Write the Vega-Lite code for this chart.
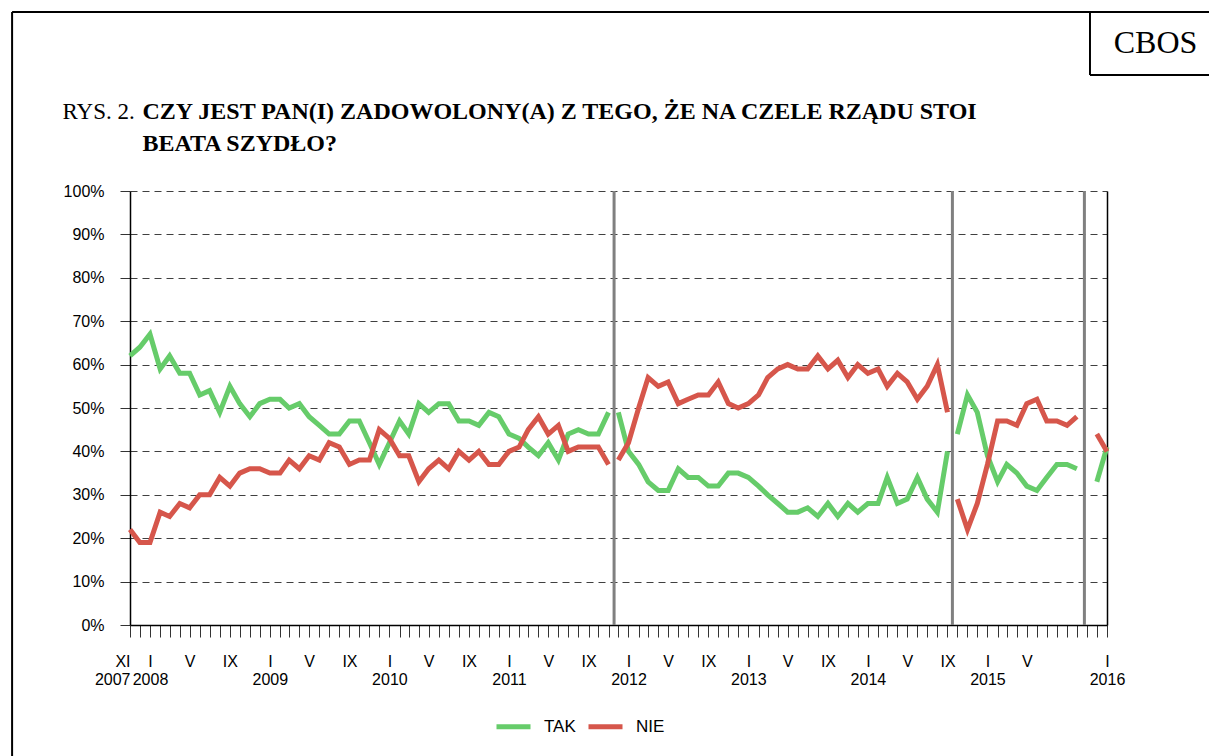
{
  "$schema": "https://vega.github.io/schema/vega-lite/v6.json",
  "width": 977,
  "height": 434,
  "autosize": "none",
  "padding": {"left": 130, "top": 191, "right": 102, "bottom": 131},
  "background": "white",
  "config": {
    "view": {"stroke": null},
    "font": "Liberation Sans",
    "axis": {"labelFont": "Liberation Sans", "titleFont": "Liberation Serif", "labelColor": "black", "titleColor": "black"}
  },
  "datasets": {
    "sondaz": [
      {"data": "2007-11-01", "TAK": 62, "NIE": 22, "rzad": "Tusk I"},
      {"data": "2007-12-01", "TAK": 64, "NIE": 19, "rzad": "Tusk I"},
      {"data": "2008-01-01", "TAK": 67, "NIE": 19, "rzad": "Tusk I"},
      {"data": "2008-02-01", "TAK": 59, "NIE": 26, "rzad": "Tusk I"},
      {"data": "2008-03-01", "TAK": 62, "NIE": 25, "rzad": "Tusk I"},
      {"data": "2008-04-01", "TAK": 58, "NIE": 28, "rzad": "Tusk I"},
      {"data": "2008-05-01", "TAK": 58, "NIE": 27, "rzad": "Tusk I"},
      {"data": "2008-06-01", "TAK": 53, "NIE": 30, "rzad": "Tusk I"},
      {"data": "2008-07-01", "TAK": 54, "NIE": 30, "rzad": "Tusk I"},
      {"data": "2008-08-01", "TAK": 49, "NIE": 34, "rzad": "Tusk I"},
      {"data": "2008-09-01", "TAK": 55, "NIE": 32, "rzad": "Tusk I"},
      {"data": "2008-10-01", "TAK": 51, "NIE": 35, "rzad": "Tusk I"},
      {"data": "2008-11-01", "TAK": 48, "NIE": 36, "rzad": "Tusk I"},
      {"data": "2008-12-01", "TAK": 51, "NIE": 36, "rzad": "Tusk I"},
      {"data": "2009-01-01", "TAK": 52, "NIE": 35, "rzad": "Tusk I"},
      {"data": "2009-02-01", "TAK": 52, "NIE": 35, "rzad": "Tusk I"},
      {"data": "2009-03-01", "TAK": 50, "NIE": 38, "rzad": "Tusk I"},
      {"data": "2009-04-01", "TAK": 51, "NIE": 36, "rzad": "Tusk I"},
      {"data": "2009-05-01", "TAK": 48, "NIE": 39, "rzad": "Tusk I"},
      {"data": "2009-06-01", "TAK": 46, "NIE": 38, "rzad": "Tusk I"},
      {"data": "2009-07-01", "TAK": 44, "NIE": 42, "rzad": "Tusk I"},
      {"data": "2009-08-01", "TAK": 44, "NIE": 41, "rzad": "Tusk I"},
      {"data": "2009-09-01", "TAK": 47, "NIE": 37, "rzad": "Tusk I"},
      {"data": "2009-10-01", "TAK": 47, "NIE": 38, "rzad": "Tusk I"},
      {"data": "2009-11-01", "TAK": 42, "NIE": 38, "rzad": "Tusk I"},
      {"data": "2009-12-01", "TAK": 37, "NIE": 45, "rzad": "Tusk I"},
      {"data": "2010-01-01", "TAK": 42, "NIE": 43, "rzad": "Tusk I"},
      {"data": "2010-02-01", "TAK": 47, "NIE": 39, "rzad": "Tusk I"},
      {"data": "2010-03-01", "TAK": 44, "NIE": 39, "rzad": "Tusk I"},
      {"data": "2010-04-01", "TAK": 51, "NIE": 33, "rzad": "Tusk I"},
      {"data": "2010-05-01", "TAK": 49, "NIE": 36, "rzad": "Tusk I"},
      {"data": "2010-06-01", "TAK": 51, "NIE": 38, "rzad": "Tusk I"},
      {"data": "2010-07-01", "TAK": 51, "NIE": 36, "rzad": "Tusk I"},
      {"data": "2010-08-01", "TAK": 47, "NIE": 40, "rzad": "Tusk I"},
      {"data": "2010-09-01", "TAK": 47, "NIE": 38, "rzad": "Tusk I"},
      {"data": "2010-10-01", "TAK": 46, "NIE": 40, "rzad": "Tusk I"},
      {"data": "2010-11-01", "TAK": 49, "NIE": 37, "rzad": "Tusk I"},
      {"data": "2010-12-01", "TAK": 48, "NIE": 37, "rzad": "Tusk I"},
      {"data": "2011-01-01", "TAK": 44, "NIE": 40, "rzad": "Tusk I"},
      {"data": "2011-02-01", "TAK": 43, "NIE": 41, "rzad": "Tusk I"},
      {"data": "2011-03-01", "TAK": 41, "NIE": 45, "rzad": "Tusk I"},
      {"data": "2011-04-01", "TAK": 39, "NIE": 48, "rzad": "Tusk I"},
      {"data": "2011-05-01", "TAK": 42, "NIE": 44, "rzad": "Tusk I"},
      {"data": "2011-06-01", "TAK": 38, "NIE": 46, "rzad": "Tusk I"},
      {"data": "2011-07-01", "TAK": 44, "NIE": 40, "rzad": "Tusk I"},
      {"data": "2011-08-01", "TAK": 45, "NIE": 41, "rzad": "Tusk I"},
      {"data": "2011-09-01", "TAK": 44, "NIE": 41, "rzad": "Tusk I"},
      {"data": "2011-10-01", "TAK": 44, "NIE": 41, "rzad": "Tusk I"},
      {"data": "2011-11-01", "TAK": 49, "NIE": 37, "rzad": "Tusk I"},
      {"data": "2011-12-01", "TAK": 49, "NIE": 38, "rzad": "Tusk II"},
      {"data": "2012-01-01", "TAK": 40, "NIE": 42, "rzad": "Tusk II"},
      {"data": "2012-02-01", "TAK": 37, "NIE": 50, "rzad": "Tusk II"},
      {"data": "2012-03-01", "TAK": 33, "NIE": 57, "rzad": "Tusk II"},
      {"data": "2012-04-01", "TAK": 31, "NIE": 55, "rzad": "Tusk II"},
      {"data": "2012-05-01", "TAK": 31, "NIE": 56, "rzad": "Tusk II"},
      {"data": "2012-06-01", "TAK": 36, "NIE": 51, "rzad": "Tusk II"},
      {"data": "2012-07-01", "TAK": 34, "NIE": 52, "rzad": "Tusk II"},
      {"data": "2012-08-01", "TAK": 34, "NIE": 53, "rzad": "Tusk II"},
      {"data": "2012-09-01", "TAK": 32, "NIE": 53, "rzad": "Tusk II"},
      {"data": "2012-10-01", "TAK": 32, "NIE": 56, "rzad": "Tusk II"},
      {"data": "2012-11-01", "TAK": 35, "NIE": 51, "rzad": "Tusk II"},
      {"data": "2012-12-01", "TAK": 35, "NIE": 50, "rzad": "Tusk II"},
      {"data": "2013-01-01", "TAK": 34, "NIE": 51, "rzad": "Tusk II"},
      {"data": "2013-02-01", "TAK": 32, "NIE": 53, "rzad": "Tusk II"},
      {"data": "2013-03-01", "TAK": 30, "NIE": 57, "rzad": "Tusk II"},
      {"data": "2013-04-01", "TAK": 28, "NIE": 59, "rzad": "Tusk II"},
      {"data": "2013-05-01", "TAK": 26, "NIE": 60, "rzad": "Tusk II"},
      {"data": "2013-06-01", "TAK": 26, "NIE": 59, "rzad": "Tusk II"},
      {"data": "2013-07-01", "TAK": 27, "NIE": 59, "rzad": "Tusk II"},
      {"data": "2013-08-01", "TAK": 25, "NIE": 62, "rzad": "Tusk II"},
      {"data": "2013-09-01", "TAK": 28, "NIE": 59, "rzad": "Tusk II"},
      {"data": "2013-10-01", "TAK": 25, "NIE": 61, "rzad": "Tusk II"},
      {"data": "2013-11-01", "TAK": 28, "NIE": 57, "rzad": "Tusk II"},
      {"data": "2013-12-01", "TAK": 26, "NIE": 60, "rzad": "Tusk II"},
      {"data": "2014-01-01", "TAK": 28, "NIE": 58, "rzad": "Tusk II"},
      {"data": "2014-02-01", "TAK": 28, "NIE": 59, "rzad": "Tusk II"},
      {"data": "2014-03-01", "TAK": 34, "NIE": 55, "rzad": "Tusk II"},
      {"data": "2014-04-01", "TAK": 28, "NIE": 58, "rzad": "Tusk II"},
      {"data": "2014-05-01", "TAK": 29, "NIE": 56, "rzad": "Tusk II"},
      {"data": "2014-06-01", "TAK": 34, "NIE": 52, "rzad": "Tusk II"},
      {"data": "2014-07-01", "TAK": 29, "NIE": 55, "rzad": "Tusk II"},
      {"data": "2014-08-01", "TAK": 26, "NIE": 60, "rzad": "Tusk II"},
      {"data": "2014-09-01", "TAK": 40, "NIE": 49, "rzad": "Tusk II"},
      {"data": "2014-10-01", "TAK": 44, "NIE": 29, "rzad": "Kopacz"},
      {"data": "2014-11-01", "TAK": 53, "NIE": 22, "rzad": "Kopacz"},
      {"data": "2014-12-01", "TAK": 49, "NIE": 28, "rzad": "Kopacz"},
      {"data": "2015-01-01", "TAK": 39, "NIE": 37, "rzad": "Kopacz"},
      {"data": "2015-02-01", "TAK": 33, "NIE": 47, "rzad": "Kopacz"},
      {"data": "2015-03-01", "TAK": 37, "NIE": 47, "rzad": "Kopacz"},
      {"data": "2015-04-01", "TAK": 35, "NIE": 46, "rzad": "Kopacz"},
      {"data": "2015-05-01", "TAK": 32, "NIE": 51, "rzad": "Kopacz"},
      {"data": "2015-06-01", "TAK": 31, "NIE": 52, "rzad": "Kopacz"},
      {"data": "2015-07-01", "TAK": 34, "NIE": 47, "rzad": "Kopacz"},
      {"data": "2015-08-01", "TAK": 37, "NIE": 47, "rzad": "Kopacz"},
      {"data": "2015-09-01", "TAK": 37, "NIE": 46, "rzad": "Kopacz"},
      {"data": "2015-10-01", "TAK": 36, "NIE": 48, "rzad": "Kopacz"},
      {"data": "2015-12-01", "TAK": 33, "NIE": 44, "rzad": "Szydło"},
      {"data": "2016-01-01", "TAK": 41, "NIE": 40, "rzad": "Szydło"}
    ],
    "zmiany": [
      {"data": "2011-11-18", "rzad": "Tusk II"},
      {"data": "2014-09-16", "rzad": "Kopacz"},
      {"data": "2015-10-24", "rzad": "Szydło"}
    ]
  },
  "resolve": {"axis": {"x": "independent", "y": "independent"}},
  "layer": [
    {
      "data": {"name": "sondaz"},
      "transform": [{"fold": ["TAK", "NIE"], "as": ["odpowiedz", "procent"]}],
      "mark": {"type": "line", "strokeWidth": 5, "strokeJoin": "miter"},
      "encoding": {
        "x": {
          "field": "data", "type": "temporal",
          "scale": {"type": "utc", "nice": false, "domain": [{"year": 2007, "month": 11, "date": 1, "utc": true}, {"year": 2016, "month": 1, "date": 1, "utc": true}]},
          "axis": {
            "orient": "bottom", "title": null, "grid": false,
            "tickCount": {"interval": "month", "step": 1},
            "domainColor": "black", "domainWidth": 1.5,
            "tickColor": "#333333", "tickSize": 12, "tickWidth": 1,
            "labelFontSize": 16, "labelLineHeight": 18, "labelPadding": 16,
            "labelOverlap": false, "labelFlush": false, "labelBound": false,
            "labelAlign": {"condition": {"test": "utcyear(datum.value) == 2007", "value": "right"}, "value": "center"},
            "labelExpr": "utcmonth(datum.value) == 0 ? ['I', '' + utcyear(datum.value)] : utcmonth(datum.value) == 4 ? 'V' : (utcmonth(datum.value) == 8 && utcyear(datum.value) < 2015) ? 'IX' : (utcmonth(datum.value) == 10 && utcyear(datum.value) == 2007) ? ['XI', '2007'] : ''"
          }
        },
        "y": {
          "field": "procent", "type": "quantitative",
          "scale": {"domain": [0, 100], "nice": false},
          "axis": {
            "orient": "left", "values": [0, 10, 20, 30, 40, 50, 60, 70, 80, 90, 100],
            "labelExpr": "datum.value + '%'",
            "grid": true, "gridDash": [7, 5], "gridColor": "#404040", "gridWidth": 1,
            "domainColor": "black", "domainWidth": 1.5,
            "tickColor": "#333333", "tickSize": 10, "labelPadding": 16,
            "labelFontSize": 16,
            "title": "RYS. 2.", "titleAngle": 0, "titleX": -68, "titleY": -73,
            "titleAlign": "left", "titleBaseline": "alphabetic",
            "titleFontSize": 23, "titleFontWeight": "normal", "titleFont": "Liberation Serif"
          }
        },
        "color": {
          "field": "odpowiedz", "type": "nominal",
          "scale": {"domain": ["TAK", "NIE"], "range": ["#66cc6a", "#d6564b"]},
          "legend": {
            "orient": "none", "legendX": 364, "legendY": 516, "direction": "horizontal",
            "title": null, "symbolType": "stroke", "symbolSize": 1156, "symbolStrokeWidth": 5,
            "labelFontSize": 17, "labelFont": "Liberation Sans", "labelColor": "black",
            "labelOffset": 11, "columnPadding": 2, "padding": 0
          }
        },
        "detail": {"field": "rzad", "type": "nominal"}
      }
    },
    {
      "data": {"name": "zmiany"},
      "mark": {"type": "rule", "color": "#808080", "strokeWidth": 3},
      "encoding": {
        "x": {
          "field": "data", "type": "temporal",
          "scale": {"type": "utc", "nice": false, "domain": [{"year": 2007, "month": 11, "date": 1, "utc": true}, {"year": 2016, "month": 1, "date": 1, "utc": true}]},
          "axis": null
        }
      }
    },
    {
      "data": {"values": [{}]},
      "mark": {"type": "rule", "color": "black", "strokeWidth": 2},
      "encoding": {
        "x": {
          "datum": {"year": 2006, "month": 11, "date": 6, "utc": true}, "type": "temporal",
          "scale": {"type": "utc", "nice": false, "domain": [{"year": 2007, "month": 11, "date": 1, "utc": true}, {"year": 2016, "month": 1, "date": 1, "utc": true}]},
          "axis": {
            "orient": "top", "domain": false, "ticks": false, "labels": false, "grid": false,
            "title": ["CZY JEST PAN(I) ZADOWOLONY(A) Z TEGO, ŻE NA CZELE RZĄDU STOI", "\u00a0\u00a0\u00a0BEATA SZYDŁO?"],
            "titleX": 12, "titleY": -73, "titleAlign": "left", "titleBaseline": "alphabetic", "titleAngle": 0,
            "titleFont": "Liberation Serif", "titleFontSize": 24, "titleFontWeight": "bold", "titleLineHeight": 32
          }
        },
        "x2": {"datum": {"year": 2017, "month": 6, "date": 1, "utc": true}},
        "y": {
          "datum": 141.24, "type": "quantitative",
          "scale": {"domain": [0, 100], "nice": false},
          "axis": {
            "orient": "right", "domain": true, "domainColor": "black", "domainWidth": 1.5,
            "ticks": false, "labels": false, "grid": false,
            "title": "CBOS", "titleAngle": 0, "titleX": 48, "titleY": -149,
            "titleAlign": "center", "titleBaseline": "middle",
            "titleFont": "Liberation Serif", "titleFontSize": 32, "titleFontWeight": "normal"
          }
        }
      }
    },
    {
      "data": {"values": [{}]},
      "mark": {"type": "rule", "color": "black", "strokeWidth": 2},
      "encoding": {
        "x": {
          "datum": {"year": 2006, "month": 11, "date": 6, "utc": true}, "type": "temporal",
          "scale": {"type": "utc", "nice": false, "domain": [{"year": 2007, "month": 11, "date": 1, "utc": true}, {"year": 2016, "month": 1, "date": 1, "utc": true}]},
          "axis": null
        },
        "y": {"datum": 141.24, "type": "quantitative", "scale": {"domain": [0, 100], "nice": false}, "axis": null},
        "y2": {"datum": -35}
      }
    },
    {
      "data": {"values": [{}]},
      "mark": {"type": "rule", "color": "black", "strokeWidth": 2},
      "encoding": {
        "x": {
          "datum": {"year": 2015, "month": 11, "date": 10, "utc": true}, "type": "temporal",
          "scale": {"type": "utc", "nice": false, "domain": [{"year": 2007, "month": 11, "date": 1, "utc": true}, {"year": 2016, "month": 1, "date": 1, "utc": true}]},
          "axis": null
        },
        "y": {"datum": 141.24, "type": "quantitative", "scale": {"domain": [0, 100], "nice": false}, "axis": null},
        "y2": {"datum": 126.73}
      }
    },
    {
      "data": {"values": [{}]},
      "mark": {"type": "rule", "color": "black", "strokeWidth": 2},
      "encoding": {
        "x": {
          "datum": {"year": 2015, "month": 11, "date": 10, "utc": true}, "type": "temporal",
          "scale": {"type": "utc", "nice": false, "domain": [{"year": 2007, "month": 11, "date": 1, "utc": true}, {"year": 2016, "month": 1, "date": 1, "utc": true}]},
          "axis": null
        },
        "x2": {"datum": {"year": 2017, "month": 6, "date": 1, "utc": true}},
        "y": {"datum": 126.73, "type": "quantitative", "scale": {"domain": [0, 100], "nice": false}, "axis": null}
      }
    }
  ]
}
